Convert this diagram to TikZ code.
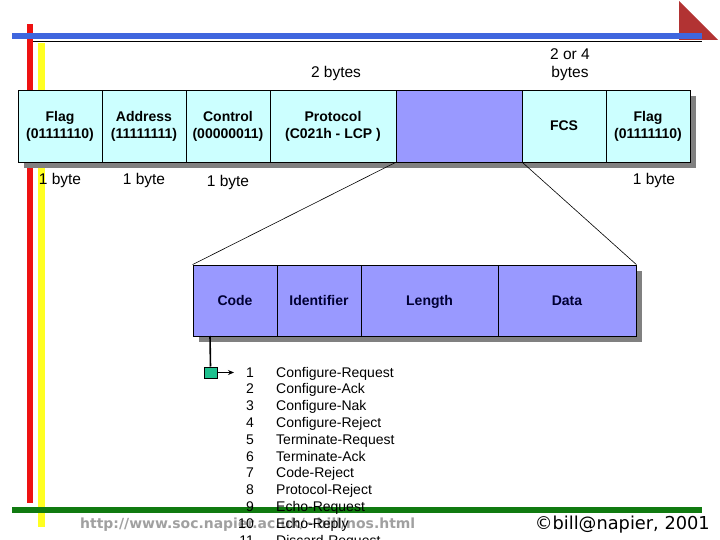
\documentclass[tikz,border=0pt]{standalone}
\usepackage{fontspec}
\setmainfont{Liberation Sans}
\newfontfamily\dvs{DejaVu Sans}
\usetikzlibrary{arrows.meta}
\definecolor{cellcyan}{HTML}{CCFFFF}
\definecolor{cellpurple}{HTML}{9999FF}
\definecolor{shadowgray}{HTML}{808080}
\definecolor{barblue}{HTML}{3F66DE}
\definecolor{barred}{HTML}{EE1111}
\definecolor{baryellow}{HTML}{FFFF22}
\definecolor{bargreen}{HTML}{107A10}
\definecolor{trired}{HTML}{B23333}
\definecolor{sqgreen}{HTML}{1EC08E}
\definecolor{urlgray}{HTML}{A0A0A0}
\definecolor{navy}{HTML}{000033}
\begin{document}
\begin{tikzpicture}[x=1pt,y=-1pt,
  cell/.style={draw=black, line width=0.8pt, fill=cellcyan, inner sep=0pt,
    minimum height=72pt, align=center, font=\fontsize{14}{17}\selectfont\bfseries},
  pcell/.style={cell, fill=cellpurple, minimum height=71pt, text=navy, text depth=0pt},
  bytelbl/.style={font=\fontsize{15.5}{18}\selectfont, inner sep=0pt, align=center},
  listtxt/.style={font=\fontsize{14}{16.8}\selectfont, inner sep=0pt},
  shadow/.style={fill=shadowgray, draw=none}]
\useasboundingbox (0,0) rectangle (720,540);
% decorative bars
\fill[trired] (679,1) -- (679,40) -- (718,40) -- cycle;
\fill[barred] (27,24) rectangle (33,503);
\fill[barblue] (12,33) rectangle (702,39);
\draw[line width=1pt] (33,42) -- (702,42);
\fill[baryellow] (38,43) rectangle (45,527);
% top frame
\fill[shadow] (24,96) rectangle (696,168);
\node[cell, minimum width=84pt] (flagA) at (60,126) {Flag\\(01111110)};
\node[cell, minimum width=84pt] (addr) at (144,126) {Address\\(11111111)};
\node[cell, minimum width=84pt] (ctrl) at (228,126) {Control\\(00000011)};
\node[cell, minimum width=126pt] (proto) at (333,126) {Protocol\\(C021h - LCP )};
\node[cell, fill=cellpurple, minimum width=126pt] (info) at (459,126) {};
\node[cell, minimum width=84pt] (fcs) at (564,126) {FCS};
\node[cell, minimum width=84pt] (flagB) at (648,126) {Flag\\(01111110)};
% byte labels
\node[bytelbl] (l2b) at (336,73) {2 bytes};
\node[bytelbl] (l24) at (570,65) {2 or 4\\bytes};
\node[bytelbl] (b1) at (60,180) {1 byte};
\node[bytelbl] (b2) at (144,180) {1 byte};
\node[bytelbl] (b3) at (228,182) {1 byte};
\node[bytelbl] (b4) at (654,180) {1 byte};
% bottom frame
\fill[shadow] (199,271) rectangle (642,342);
\node[pcell, minimum width=84pt] (code) at (235,300.5) {Code};
\node[pcell, minimum width=84pt] (ident) at (319,300.5) {Identifier};
\node[pcell, minimum width=137pt] (len) at (429.5,300.5) {Length};
\node[pcell, minimum width=138pt] (data) at (567,300.5) {Data};
% zoom lines
\draw[line width=0.6pt] (info.south west) -- (code.north west);
\draw[line width=0.6pt] (info.south east) -- (data.north east);
% code pointer
\coordinate (cbot) at (210,336);
\node[draw=black, line width=1pt, fill=sqgreen, minimum width=13pt, minimum height=11pt, inner sep=0pt] (sq) at (210.5,372.5) {};
\coordinate (arrend) at (234,372.5);
\draw[line width=1.6pt] (cbot) -- (sq.north);
\draw[line width=1.2pt, -{Stealth[length=6pt,width=5pt]}] (sq.east) -- (arrend);
% footer
\fill[bargreen] (12,507) rectangle (702,513);
\node[anchor=west, inner sep=0pt, text=urlgray] (url) at (80,525)
  {\resizebox{335pt}{!}{\dvs\bfseries http://www.soc.napier.ac.uk/\textasciitilde bill/nos.html}};
\node[anchor=east, inner sep=0pt] (copy) at (710,525)
  {\resizebox{175pt}{!}{\dvs ©bill@napier, 2001}};
% code list
\foreach \n/\t [count=\i from 0] in {1/Configure-Request,2/Configure-Ack,3/Configure-Nak,4/Configure-Reject,5/Terminate-Request,6/Terminate-Ack,7/Code-Reject,8/Protocol-Reject,9/Echo-Request,10/Echo-Reply,11/Discard-Request}{
  \node[listtxt, anchor=base east] (num\n) at (254,{377+16.8*\i}) {\n};
  \node[listtxt, anchor=base west] (item\n) at (276,{377+16.8*\i}) {\t};
}
\end{tikzpicture}
\end{document}
